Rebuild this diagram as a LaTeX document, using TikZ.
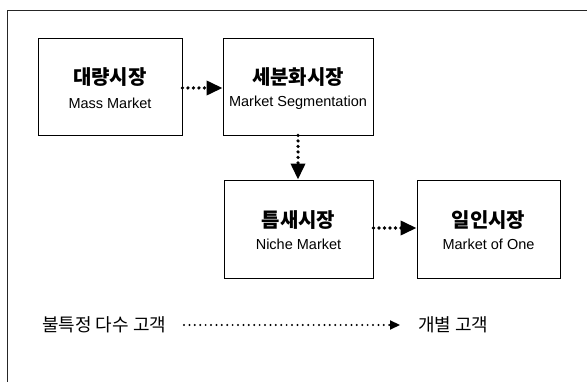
\documentclass[tikz,border=0pt]{standalone}
\usepackage{fontspec}
\setmainfont{Liberation Sans}
\newfontfamily\kr{Noto Sans CJK KR}
\usetikzlibrary{arrows.meta}
\tikzset{
  mbox/.style={draw=black, line width=0.9pt, minimum height=97pt, inner sep=0pt},
  ttl/.style={font=\kr\bfseries\fontsize{20}{24}\selectfont, inner sep=0pt},
  sub/.style={font=\fontsize{14.5}{17}\selectfont, inner sep=0pt},
  bigdots/.style={line width=3.6pt, line cap=round, dash pattern=on 0pt off 5.5pt,
    -{Triangle[length=16pt,width=14pt]}},
  smalldots/.style={line width=2.2pt, line cap=round, dash pattern=on 0pt off 5.4pt,
    -{Triangle[length=10pt,width=9pt]}},
  lbl/.style={font=\kr\fontsize{18}{21}\selectfont, inner sep=0pt, anchor=west},
}
\begin{document}
\begin{tikzpicture}[x=1pt,y=-1pt]
\useasboundingbox (0,0) rectangle (587,382);
\draw[line width=0.8pt, black!85] (7,382) -- (7,10) -- (587,10);

\node[mbox, minimum width=144pt] (b1) at (110,86.5) {};
\node[mbox, minimum width=150pt] (b2) at (298,86.5) {};
\node[mbox, minimum width=149pt, minimum height=98pt] (b3) at (298.5,229) {};
\node[mbox, minimum width=143pt, minimum height=98pt] (b4) at (488.5,229) {};

\node[ttl] (t1) at (110,77) {대량시장};
\node[sub] (s1) at (110,103) {Mass Market};
\node[ttl] (t2) at (298,77) {세분화시장};
\node[sub] (s2) at (298,103) {Market Segmentation};
\node[ttl] (t3) at (298.5,220) {틈새시장};
\node[sub] (s3) at (298.5,244) {Niche Market};
\node[ttl] (t4) at (488.5,220) {일인시장};
\node[sub] (s4) at (488.5,244) {Market of One};

\draw[bigdots] (b1.east |- 0,88) -- (b2.west |- 0,88);
\draw[bigdots] (b2.south) -- (b3.north -| b2.south);
\draw[bigdots] (b3.east |- 0,228) -- (b4.west |- 0,228);

\node[lbl] (l1) at (42,325) {불특정 다수 고객};
\node[lbl] (l2) at (418,325) {개별 고객};
\coordinate (a1) at (184,325);
\coordinate (a2) at (400,325);
\draw[smalldots] (a1) -- (a2);
\end{tikzpicture}
\end{document}
